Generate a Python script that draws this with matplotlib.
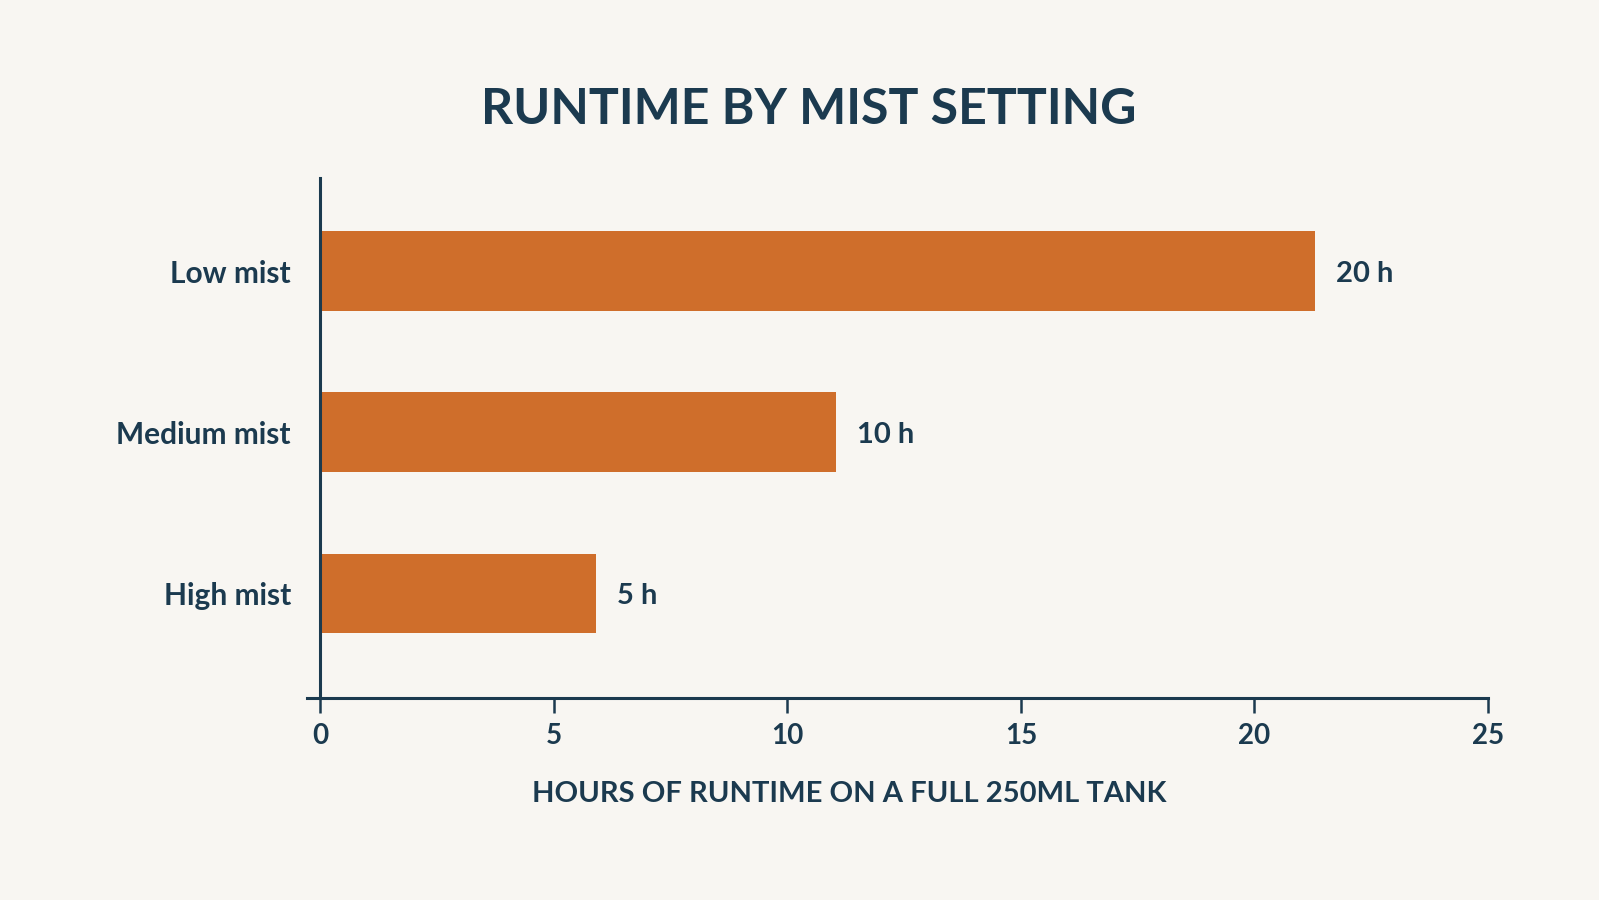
import matplotlib
matplotlib.use("Agg")
import matplotlib.pyplot as plt

categories = ["High mist", "Medium mist", "Low mist"]
bar_values = [5.9, 11.05, 21.3]
value_labels = ["5 h", "10 h", "20 h"]
x_ticks = [0, 5, 10, 15, 20, 25]

title = "RUNTIME BY MIST SETTING"
x_title = "HOURS OF RUNTIME ON A FULL 250ML TANK"

BG = "#F8F6F2"
BAR = "#CF6E2B"
NAVY = "#1B3A4F"

plt.rcParams['font.family'] = ['Lato', 'DejaVu Sans']

fig = plt.figure(figsize=(15.99, 9.0), dpi=100, facecolor=BG)
ax = fig.add_axes([0.19225, 0.225, 0.73834, 0.802 - 0.225])
ax.set_facecolor(BG)

ypos = list(range(len(categories)))
ax.barh(ypos, bar_values, height=0.494, color=BAR, zorder=2)

for y, v, lab in zip(ypos, bar_values, value_labels):
    ax.text(v + 0.45, y, lab, va="center_baseline", ha="left", fontsize=21,
            fontweight="bold", color=NAVY)

ax.set_xlim(-0.27, 25)
ax.set_ylim(-0.646, 2.576)
ax.spines['left'].set_position(('data', 0))
for s in ['top', 'right']:
    ax.spines[s].set_visible(False)
for s in ['left', 'bottom']:
    ax.spines[s].set_color(NAVY)
    ax.spines[s].set_linewidth(2.2)

ax.set_xticks(x_ticks)
ax.set_xticklabels([str(t) for t in x_ticks], fontsize=20, fontweight="bold", color=NAVY)
ax.tick_params(axis='x', length=11, width=1.8, color=NAVY, pad=7)
ax.set_yticks(ypos)
ax.set_yticklabels(categories, fontsize=21.5, fontweight="bold", color=NAVY)
ax.tick_params(axis='y', length=0, pad=21)

fig.text(0.506, 0.878, title, ha="center", va="center", fontsize=36,
         fontweight="bold", color=NAVY)
fig.text(0.531, 0.118, x_title, ha="center", va="center", fontsize=21,
         fontweight="bold", color=NAVY)

fig.savefig("out.png", dpi=100, facecolor=BG)
